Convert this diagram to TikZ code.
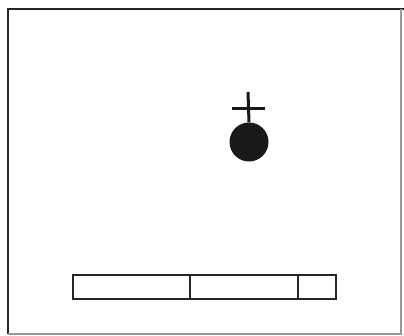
\documentclass[tikz,border=0pt]{standalone}
\begin{document}
\begin{tikzpicture}[x=1pt,y=-1pt,
  thickedge/.style={line width=2.8pt,black!85},
  thinedge/.style={line width=1.2pt,black!40},
  cell/.style={draw,line width=1.5pt,black!85}]
\useasboundingbox (0,0) rectangle (404,336);
% frame
\coordinate (tl) at (8,9);
\coordinate (tr) at (404,9);
\coordinate (bl) at (8,334);
\coordinate (br) at (401,334);
\draw[thickedge] (bl) -- (tl) -- (tr);
\draw[thinedge] (tr) ++(-3,0) -- (br) -- (bl);
% symbol
\node[circle,fill=black!90,minimum size=39pt,inner sep=0pt] (ball) at (249,142) {};
\coordinate (ctop) at (248,92);
\coordinate (cl) at (232,109);
\coordinate (cr) at (265,109);
\draw[line width=3pt,black!90] (ctop) -- (ball.north);
\draw[line width=3pt,black!90] (cl) -- (cr);
% bar
\coordinate (b0) at (73,275);
\coordinate (b1) at (190,275);
\coordinate (b2) at (298,275);
\coordinate (b3) at (336,299);
\draw[cell] (b0) rectangle (b3);
\draw[cell] (b1) -- (b1 |- b3);
\draw[cell] (b2) -- (b2 |- b3);
\end{tikzpicture}
\end{document}
